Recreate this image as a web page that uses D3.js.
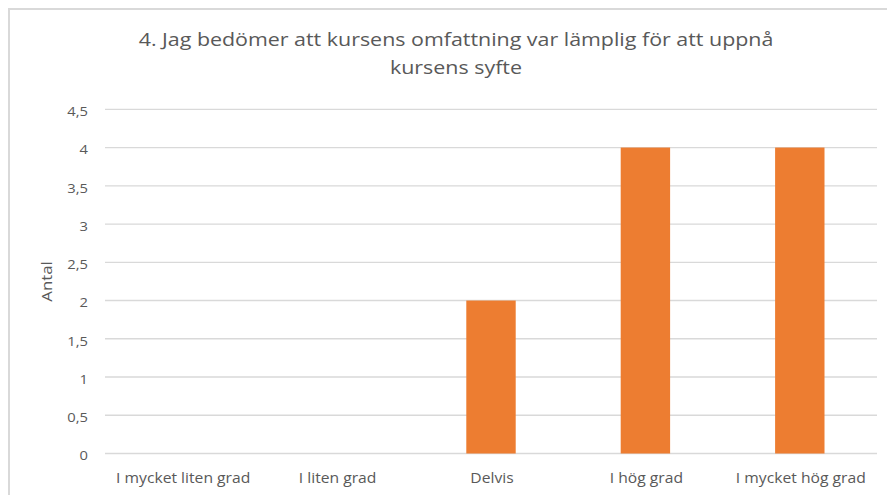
<!DOCTYPE html>
<html>
<head>
<meta charset="utf-8">
<script src="https://cdn.jsdelivr.net/npm/d3@7"></script>
<style>
  body { margin: 0; background: #fff; }
  text { font-family: "Open Sans", sans-serif; fill: #595959; }
</style>
</head>
<body>
<div id="chart"></div>
<script>
let width = 887, height = 495;
let margin = { top: 109.3, right: 10, bottom: 41, left: 105 };

// data
let categories = ["I mycket liten grad", "I liten grad", "Delvis", "I hög grad", "I mycket hög grad"];
let values = [0, 0, 2, 4, 4];
let yTicks = [0, 0.5, 1, 1.5, 2, 2.5, 3, 3.5, 4, 4.5];
let titleLines = ["4. Jag bedömer att kursens omfattning var lämplig för att uppnå", "kursens syfte"];
let yLabel = "Antal";

// the reference text looks stretched sideways a bit
let stretch = 1.18;

let svg = d3.select("#chart")
    .append("svg")
    .attr("width", width)
    .attr("height", height);

// chart frame
svg.append("rect")
    .attr("x", 9)
    .attr("y", 9)
    .attr("width", 900)
    .attr("height", 500)
    .attr("fill", "white")
    .attr("stroke", "#d9d9d9")
    .attr("stroke-width", 2);

let plotW = 877 - margin.left;
let plotH = 453.5 - margin.top;

let g = svg.append("g")
    .attr("transform", `translate(${margin.left}, ${margin.top})`);

let x = d3.scaleBand()
    .domain(categories)
    .range([0, plotW])
    .paddingInner(0.68)
    .paddingOuter(0.34);

let y = d3.scaleLinear()
    .domain([0, 4.5])
    .range([plotH, 0]);

let fmt = d => String(d).replace(".", ",");

// gridlines
g.append("g")
    .selectAll("line")
    .data(yTicks)
    .enter()
    .append("line")
    .attr("x1", 0)
    .attr("x2", plotW)
    .attr("y1", d => y(d))
    .attr("y2", d => y(d))
    .attr("stroke", "#d9d9d9")
    .attr("stroke-width", 1.3);

// y axis labels
let yAxis = g.append("g")
    .call(d3.axisLeft(y).tickValues(yTicks).tickFormat(fmt).tickSize(0));
yAxis.select(".domain").remove();
yAxis.selectAll("text")
    .attr("x", 0)
    .attr("dy", "0.5em")
    .attr("transform", `translate(-17, 0) scale(${stretch}, 1)`)
    .style("font-size", "12.5px")
    .style("font-family", "'Open Sans', sans-serif")
    .attr("fill", "#595959");

// bars
g.selectAll("rect.bar")
    .data(values)
    .enter()
    .append("rect")
    .attr("class", "bar")
    .attr("x", (d, i) => x(categories[i]))
    .attr("y", d => y(d))
    .attr("width", x.bandwidth())
    .attr("height", d => plotH - y(d))
    .attr("fill", "#ed7d31");

// x axis labels
let xAxis = g.append("g")
    .attr("transform", `translate(0, ${plotH})`)
    .call(d3.axisBottom(x).tickSize(0));
xAxis.select(".domain").remove();
xAxis.selectAll("text")
    .attr("y", 0)
    .attr("dy", 0)
    .attr("transform", `translate(1, 29.5) scale(${1.12}, 1)`)
    .style("font-size", "14px")
    .style("font-family", "'Open Sans', sans-serif")
    .attr("fill", "#595959");

// y axis title
svg.append("text")
    .attr("transform", `translate(52, ${margin.top + plotH / 2})rotate(-90)scale(1.2, 1)`)
    .style("text-anchor", "middle")
    .style("font-size", "14px")
    .text(yLabel);

// title
svg.selectAll("text.title")
    .data(titleLines)
    .enter()
    .append("text")
    .attr("class", "title")
    .attr("transform", (d, i) => `translate(456, ${46 + i * 27.5}) scale(1.19, 1)`)
    .style("text-anchor", "middle")
    .style("font-size", "18px")
    .text(d => d);
</script>
</body>
</html>
